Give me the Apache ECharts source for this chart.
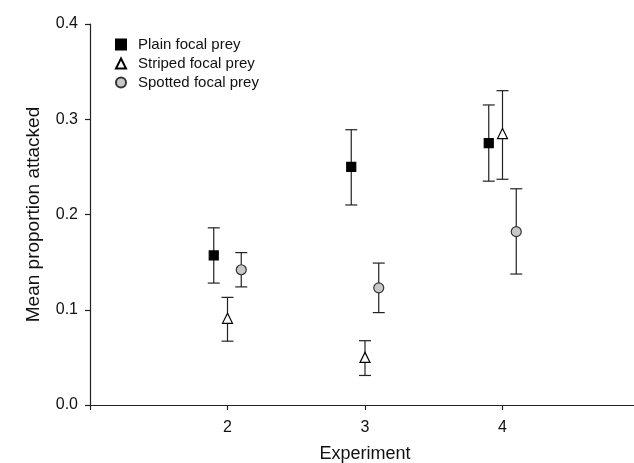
<!DOCTYPE html>
<html>
<head>
<meta charset="utf-8">
<script src="https://cdn.jsdelivr.net/npm/echarts@6/dist/echarts.min.js"></script>
<style>
html,body{margin:0;padding:0;background:#fff;}
#chart{width:634px;height:463px;}
</style>
</head>
<body>
<div id="chart"></div>
<script>
const experiments = [2, 3, 4];
const seriesNames = ['Plain focal prey', 'Striped focal prey', 'Spotted focal prey'];
const offsets = [-0.1, 0, 0.1];
const plainMean = [0.157, 0.250, 0.275];
const plainLow = [0.128, 0.210, 0.235];
const plainHigh = [0.186, 0.289, 0.315];
const stripedMean = [0.091, 0.050, 0.285];
const stripedLow = [0.067, 0.031, 0.237];
const stripedHigh = [0.113, 0.0675, 0.330];
const spottedMean = [0.142, 0.123, 0.182];
const spottedLow = [0.124, 0.097, 0.1375];
const spottedHigh = [0.160, 0.149, 0.227];
const yTicks = ['0.0', '0.1', '0.2', '0.3', '0.4'];
const xTickLabels = ['', '2', '3', '4', ''];

const FONT = 'Liberation Sans, Arial, Helvetica, sans-serif';
const means = [plainMean, stripedMean, spottedMean];
const lows = [plainLow, stripedLow, spottedLow];
const highs = [plainHigh, stripedHigh, spottedHigh];
const symbols = ['rect', 'triangle', 'circle'];
const symbolSizes = [9, 10, 10];
const fills = ['#000000', '#ffffff', '#c8c8c8'];
const borders = ['#000000', '#000000', '#333333'];

function errRender(params, api) {
  const x = api.value(0), lo = api.value(1), hi = api.value(2);
  const pLo = api.coord([x, lo]);
  const pHi = api.coord([x, hi]);
  const hw = 6;
  const style = { stroke: '#222', lineWidth: 1.2 };
  return {
    type: 'group',
    children: [
      { type: 'line', shape: { x1: pHi[0], y1: pHi[1], x2: pLo[0], y2: pLo[1] }, style: style },
      { type: 'line', shape: { x1: pHi[0] - hw, y1: pHi[1], x2: pHi[0] + hw, y2: pHi[1] }, style: style },
      { type: 'line', shape: { x1: pLo[0] - hw, y1: pLo[1], x2: pLo[0] + hw, y2: pLo[1] }, style: style }
    ]
  };
}

const series = [];
for (let s = 0; s < 3; s++) {
  series.push({
    type: 'custom',
    name: seriesNames[s] + ' err',
    renderItem: errRender,
    data: experiments.map((e, i) => [e + offsets[s], lows[s][i], highs[s][i]]),
    encode: { x: 0, y: [1, 2] },
    z: 2,
    silent: true
  });
}
for (let s = 0; s < 3; s++) {
  series.push({
    type: 'scatter',
    name: seriesNames[s],
    symbol: symbols[s],
    symbolSize: symbolSizes[s],
    data: experiments.map((e, i) => [e + offsets[s], means[s][i]]),
    itemStyle: { color: fills[s], borderColor: borders[s], borderWidth: 1.2, opacity: 1 },
    z: 5
  });
}

const chart = echarts.init(document.getElementById('chart'), null, { renderer: 'canvas' });
chart.setOption({
  animation: false,
  backgroundColor: '#ffffff',
  grid: { left: 90, right: -6, top: 24, bottom: 58, containLabel: false, outerBoundsMode: 'none' },
  legend: {
    data: seriesNames,
    orient: 'vertical',
    left: 110,
    top: 32,
    itemWidth: 10,
    itemHeight: 10,
    itemGap: 4,
    textStyle: { fontFamily: FONT, fontSize: 15, color: '#111', padding: [0, 0, 0, 7] }
  },
  xAxis: {
    type: 'value',
    min: 1,
    max: 5,
    interval: 1,
    name: 'Experiment',
    nameLocation: 'middle',
    nameGap: 40,
    nameTextStyle: { fontFamily: FONT, fontSize: 18, color: '#111' },
    axisLine: { show: true, onZero: false, lineStyle: { color: '#222', width: 1.2 } },
    axisTick: { show: true, inside: false, length: 5, lineStyle: { color: '#222', width: 1.2 } },
    axisLabel: {
      fontFamily: FONT, fontSize: 16, color: '#111', margin: 15,
      formatter: function (v) { return xTickLabels[Math.round(v) - 1] || ''; }
    },
    splitLine: { show: false }
  },
  yAxis: {
    type: 'value',
    min: 0,
    max: 0.4,
    interval: 0.1,
    name: 'Mean proportion attacked',
    nameLocation: 'middle',
    nameGap: 47,
    nameRotate: 90,
    nameTextStyle: { fontFamily: FONT, fontSize: 19, color: '#111' },
    axisLine: { show: true, lineStyle: { color: '#222', width: 1.2 } },
    axisTick: { show: true, inside: false, length: 5, lineStyle: { color: '#222', width: 1.2 } },
    axisLabel: {
      fontFamily: FONT, fontSize: 16, color: '#111', margin: 12,
      formatter: function (v) { return yTicks[Math.round(v * 10)]; }
    },
    splitLine: { show: false }
  },
  series: series
});
</script>
</body>
</html>
